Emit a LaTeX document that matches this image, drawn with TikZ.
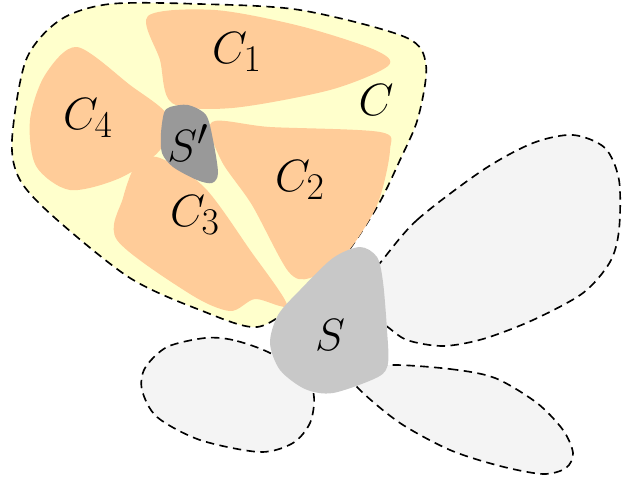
\documentclass[tikz,border=0pt]{standalone}
\usetikzlibrary{positioning}
\definecolor{amarelo}{HTML}{FFFFCC}
\definecolor{laranja}{HTML}{FFCC99}
\definecolor{cinzaesc}{HTML}{999999}
\definecolor{cinza}{HTML}{C8C8C8}
\definecolor{cinzaclaro}{HTML}{F4F4F4}
\begin{document}
\begin{tikzpicture}[x=0.55pt, y=-0.55pt,
    borda/.style={draw, line width=0.9pt, dash pattern=on 4.6pt off 3pt},
    lobo/.style={borda, fill=cinzaclaro},
    parte/.style={fill=laranja},
    rotulo/.style={font=\Huge}]
  \useasboundingbox (0,0) rectangle (622,483);
  % lobos externos
  \draw[lobo] plot[smooth cycle] coordinates {(380,263) (417,220) (483,170) (533,143)
      (573,135) (605,148) (619,180) (619,230) (610,262) (583,293) (533,320)
      (483,339) (443,346) (407,340) (385,325) (350,300)};
  \draw[lobo] plot[smooth cycle] coordinates {(390,365) (450,369) (495,378) (537,403)
      (563,430) (573,453) (566,468) (543,474) (500,466) (450,450) (400,423)
      (360,390) (350,372)};
  \draw[lobo] plot[smooth cycle] coordinates {(268,352) (233,340) (205,338) (167,347)
      (145,368) (142,390) (157,417) (200,440) (260,452) (293,443) (310,423)
      (314,397) (305,375)};
  % regiao C
  \draw[borda, fill=amarelo] plot[smooth cycle] coordinates {(12,140) (26,60) (60,20)
      (110,4) (200,4) (300,10) (405,37) (426,65) (418,118) (400,160) (377,207)
      (340,262) (300,300) (257,327) (200,310) (130,278) (55,218) (20,180)};
  % componentes
  \fill[parte] plot[smooth cycle] coordinates {(148,16) (215,10) (300,26) (375,50)
      (388,66) (330,90) (232,108) (172,103) (160,60)};
  \fill[parte] plot[smooth cycle] coordinates {(77,47) (45,75) (30,120) (36,166)
      (70,190) (120,178) (160,150) (168,116) (130,85)};
  \fill[parte] plot[smooth cycle] coordinates {(137,163) (160,158) (205,188) (250,250)
      (287,305) (255,299) (230,311) (190,294) (117,240) (123,198)};
  \fill[parte] plot[smooth cycle] coordinates {(212,122) (270,127) (380,132) (390,150)
      (377,205) (345,255) (310,278) (288,271) (252,205) (221,160)};
  % separadores
  \fill[cinzaesc] plot[smooth cycle] coordinates {(170,107) (188,105) (206,115)
      (213,140) (218,173) (212,183) (197,180) (173,167) (162,153) (161,133)
      (164,113)};
  \fill[cinza] plot[smooth cycle] coordinates {(360,247) (377,257) (383,282) (387,330)
      (388,363) (378,377) (333,393) (305,389) (280,370) (270,343) (278,315)
      (300,290) (333,258)};
  % rotulos
  \node[rotulo] (c1) at (237,52) {$C_1$};
  \node[rotulo] (c4) at (88,118) {$C_4$};
  \node[rotulo] (c) at (376,100) {$C$};
  \node[rotulo] (c2) at (300,180) {$C_2$};
  \node[rotulo] (c3) at (195,215) {$C_3$};
  \node[rotulo] (sl) at (188,143) {$S'$};
  \node[rotulo] (s) at (330,335) {$S$};
\end{tikzpicture}
\end{document}
